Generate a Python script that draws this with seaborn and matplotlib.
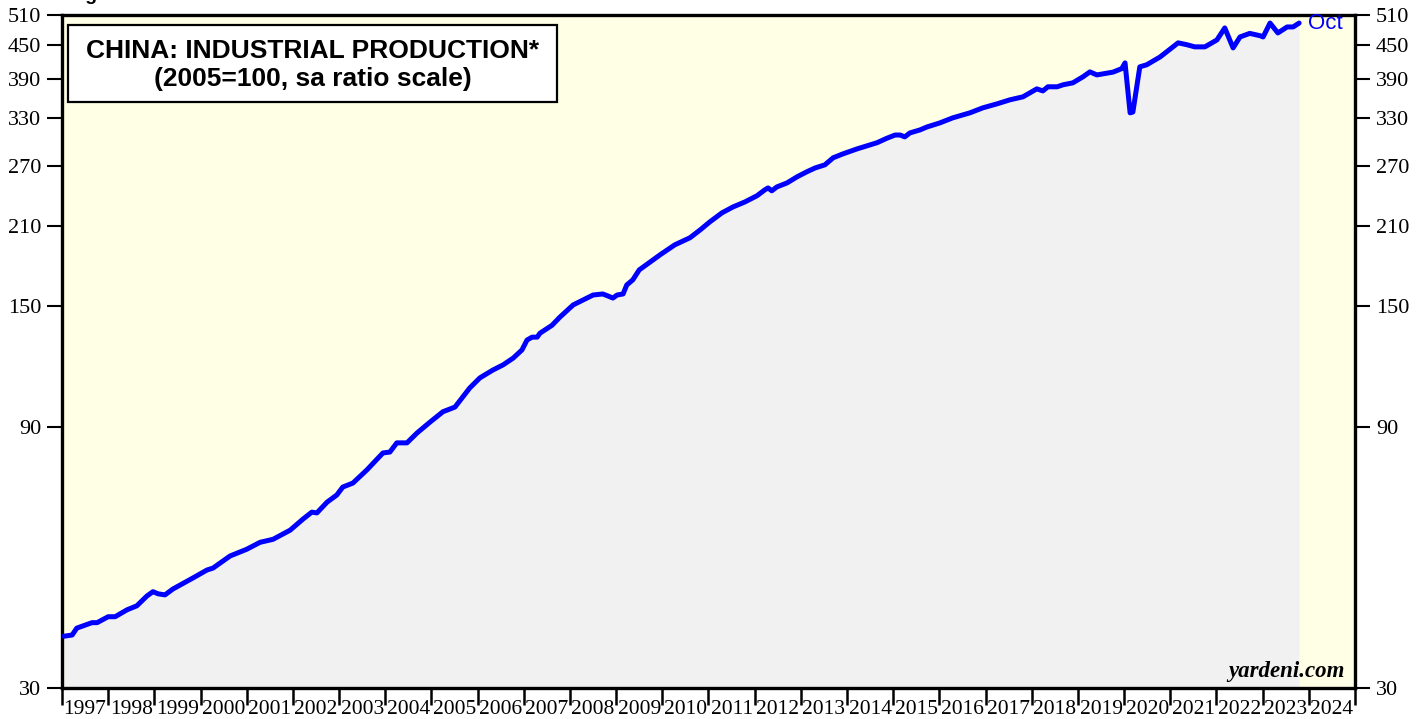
"""
China industrial production (2005=100, sa ratio scale)
- log-scale line with gray fill under the curve
- year ticks at boundaries, labels centred in each year
"""
import matplotlib
matplotlib.use("Agg")
import matplotlib.pyplot as plt
import matplotlib.patches as patches
from matplotlib.ticker import FixedLocator, FixedFormatter, NullLocator
import numpy as np
import pandas as pd
import seaborn as sns

# ---- data (decimal year, index level) ----
dates = [
    1997.04, 1997.22, 1997.32, 1997.65, 1997.76, 1998.00, 1998.15, 1998.41,
    1998.62, 1998.84, 1998.97, 1999.08, 1999.23, 1999.40, 1999.84, 2000.14,
    2000.27, 2000.64, 2001.00, 2001.29, 2001.57, 2001.94, 2002.22, 2002.41,
    2002.52, 2002.74, 2002.95, 2003.08, 2003.30, 2003.60, 2003.95, 2004.10,
    2004.25, 2004.47, 2004.69, 2004.97, 2005.25, 2005.51, 2005.83, 2006.05,
    2006.33, 2006.55, 2006.77, 2006.96, 2007.07, 2007.18, 2007.29, 2007.35,
    2007.61, 2007.78, 2008.07, 2008.28, 2008.50, 2008.71, 2008.82, 2008.93,
    2009.02, 2009.15, 2009.23, 2009.36, 2009.50, 2009.95, 2010.27, 2010.60,
    2010.82, 2011.03, 2011.29, 2011.53, 2011.79, 2012.05, 2012.22, 2012.29,
    2012.37, 2012.48, 2012.70, 2012.92, 2013.13, 2013.31, 2013.52, 2013.70,
    2013.91, 2014.22, 2014.50, 2014.65, 2014.86, 2015.04, 2015.15, 2015.25,
    2015.36, 2015.58, 2015.73, 2016.01, 2016.29, 2016.66, 2016.94, 2017.25,
    2017.53, 2017.81, 2018.11, 2018.24, 2018.35, 2018.55, 2018.68, 2018.89,
    2019.11, 2019.26, 2019.41, 2019.76, 2019.95, 2020.02, 2020.13, 2020.19,
    2020.34, 2020.49, 2020.78, 2021.17, 2021.36, 2021.53, 2021.75, 2022.01,
    2022.18, 2022.36, 2022.51, 2022.72, 2022.94, 2023.01, 2023.16, 2023.33,
    2023.53, 2023.66, 2023.79,
]
values = [
    37.3, 37.5, 38.6, 39.5, 39.5, 40.5, 40.5, 41.7,
    42.4, 44.2, 45.0, 44.6, 44.4, 45.5, 47.7, 49.3,
    49.7, 52.3, 53.8, 55.4, 56.1, 58.3, 61.1, 62.9,
    62.7, 65.6, 67.6, 69.9, 71.1, 75.1, 80.7, 81.0,
    84.2, 84.2, 87.8, 91.9, 96.0, 97.9, 106.1, 110.7,
    114.4, 116.9, 120.3, 124.5, 129.8, 131.4, 131.4, 133.6,
    138.1, 142.9, 150.5, 153.6, 156.9, 157.6, 156.3, 154.9,
    156.9, 157.6, 163.7, 167.2, 174.4, 185.8, 193.8, 199.7,
    206.4, 213.5, 221.7, 227.3, 232.2, 238.3, 244.3, 246.3,
    243.3, 247.3, 251.5, 258.1, 263.6, 267.9, 271.4, 279.6,
    284.2, 290.3, 295.3, 297.9, 303.5, 307.7, 307.7, 305.3,
    310.4, 314.4, 318.3, 323.8, 330.8, 337.8, 345.0, 350.9,
    356.9, 361.4, 373.7, 370.5, 377.0, 377.0, 380.2, 383.3,
    393.2, 401.4, 396.3, 401.0, 407.0, 416.9, 337.8, 339.0,
    410.0, 413.6, 427.5, 453.6, 450.0, 446.0, 446.0, 459.2,
    483.0, 444.0, 465.0, 472.0, 467.5, 465.0, 493.0, 472.9,
    485.0, 485.0, 493.0,
]
years = list(range(1997, 2025))
y_ticks = [30, 90, 150, 210, 270, 330, 390, 450, 510]
title_text = "CHINA: INDUSTRIAL PRODUCTION*\n(2005=100, sa ratio scale)"
last_label = "Oct"

YELLOW = "#FFFFE6"
GRAY = "#F1F1F1"
BLUE = "#0000FF"

sns.set_style("white")
plt.rcParams["font.family"] = ["Liberation Serif", "DejaVu Serif"]
plt.rcParams["text.color"] = "black"
plt.rcParams["xtick.color"] = "black"
plt.rcParams["ytick.color"] = "black"

df = pd.DataFrame({"date": dates, "value": values})

fig = plt.figure(figsize=(14.27, 7.19), dpi=100)
ax = fig.add_axes([62 / 1427, 1 - 688 / 719, 1293 / 1427, 673 / 719])
ax.set_facecolor(YELLOW)

ax.fill_between(df["date"], df["value"], 30, color=GRAY, lw=0, zorder=1)
sns.lineplot(data=df, x="date", y="value", ax=ax, color=BLUE, lw=3.6,
             zorder=3, legend=False)

ax.set_yscale("log")
ax.set_ylim(30, 510)
ax.set_xlim(1997, 2025)

# y axis: labels on both sides
ax.yaxis.set_major_locator(FixedLocator(y_ticks))
ax.yaxis.set_major_formatter(FixedFormatter([str(v) for v in y_ticks]))
ax.yaxis.set_minor_locator(NullLocator())
ax.tick_params(axis="y", which="major", direction="out", length=11, width=1.5,
               labelsize=16, left=True, right=True, labelleft=True,
               labelright=True, pad=4, colors="black")

# x axis: ticks at year boundaries, labels centred mid-year
ax.xaxis.set_major_locator(FixedLocator(years + [2025]))
ax.xaxis.set_major_formatter(FixedFormatter([""] * (len(years) + 1)))
ax.xaxis.set_minor_locator(FixedLocator([y + 0.5 for y in years]))
ax.xaxis.set_minor_formatter(FixedFormatter([str(y) for y in years]))
ax.tick_params(axis="x", which="major", direction="out", length=12, width=1.8,
               bottom=True, colors="black")
ax.tick_params(axis="x", which="minor", length=0, labelsize=15.5, pad=9,
               colors="black")

ax.set_xlabel("")
ax.set_ylabel("")
for side in ["left", "right", "top", "bottom"]:
    ax.spines[side].set_visible(True)
    ax.spines[side].set_color("black")
    ax.spines[side].set_linewidth(2.4)

# title box
ax.add_patch(patches.Rectangle((0.0046, 0.871), 0.3785, 0.114,
                               transform=ax.transAxes, facecolor="white",
                               edgecolor="black", lw=1.6, zorder=5))
ax.text(0.194, 0.926, title_text, transform=ax.transAxes, ha="center",
        va="center", fontsize=19, fontweight="bold", color="black",
        family=["Liberation Sans", "DejaVu Sans"], linespacing=1.2, zorder=6)

# end label
ax.text(dates[-1] + 0.2, values[-1], last_label, color=BLUE, fontsize=16,
        ha="left", va="center", family=["Liberation Sans", "DejaVu Sans"],
        zorder=6)

ax.text(0.992, 0.016, "yardeni.com", transform=ax.transAxes, ha="right",
        va="baseline", fontsize=16.5, fontweight="bold", style="italic",
        color="black", zorder=6)

fig.text(68 / 1427, 1.0, "Figure 1", ha="left", va="baseline", fontsize=14,
         fontweight="bold", color="black",
         family=["Liberation Sans", "DejaVu Sans"])

fig.savefig("out.png", dpi=100)
plt.close(fig)
